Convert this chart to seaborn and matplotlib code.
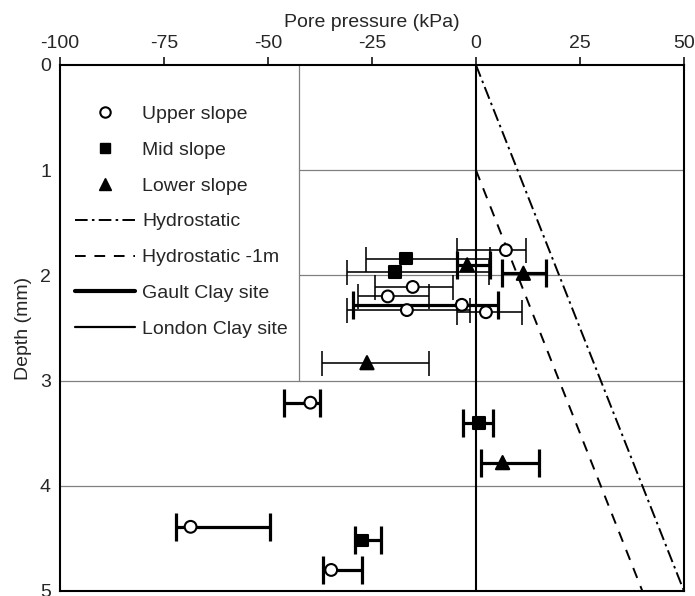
import matplotlib
matplotlib.use('Agg')
import matplotlib.pyplot as plt
from matplotlib.lines import Line2D
import numpy as np
import pandas as pd
import seaborn as sns

pressure = [7.2, -16.8, -2.1, 11.4, -19.4, -15.2, -21.2, -3.4, -16.6, 2.4,
            -26.2, -39.8, 0.8, 6.4, -68.6, -27.4, -34.8]
depth = [1.76, 1.84, 1.90, 1.98, 1.97, 2.11, 2.20, 2.28, 2.33, 2.35,
         2.83, 3.21, 3.40, 3.78, 4.39, 4.52, 4.80]
err_lo = [-4.6, -26.4, -4.6, 6.2, -31.0, -24.2, -28.4, -29.6, -31.0, -4.6,
          -37.0, -46.2, -3.0, 1.2, -72.0, -29.0, -36.8]
err_hi = [12.0, 3.4, 3.4, 16.8, 3.2, -5.4, -11.4, 5.4, -1.4, 11.0,
          -11.2, -37.6, 4.0, 15.2, -49.4, -22.8, -27.4]
slope = ['Upper slope', 'Mid slope', 'Lower slope', 'Lower slope', 'Mid slope',
         'Upper slope', 'Upper slope', 'Upper slope', 'Upper slope', 'Upper slope',
         'Lower slope', 'Upper slope', 'Mid slope', 'Lower slope', 'Upper slope',
         'Mid slope', 'Upper slope']
site = ['London', 'London', 'Gault', 'Gault', 'London', 'London', 'London', 'Gault',
        'London', 'London', 'London', 'Gault', 'Gault', 'Gault', 'Gault', 'Gault', 'Gault']

# Hydrostatische Linien
hydro_p = [0, 50]
hydro_depth = [0, 5]
hydro1_p = [0, 40]
hydro1_depth = [1, 5]

data = pd.DataFrame({'pressure': pressure, 'depth': depth, 'lo': err_lo,
                     'hi': err_hi, 'slope': slope, 'site': site})

sns.set_style('white')
plt.rcParams['font.family'] = ['Liberation Sans', 'DejaVu Sans']
plt.rcParams['font.size'] = 14
plt.rcParams['axes.unicode_minus'] = False

fig = plt.figure(figsize=(6.95, 5.96), dpi=100)
ax = fig.add_axes([0.0863, 0.0084, 0.8978, 0.8826])

# Gitterlinien und Legendenrahmen
grid_c = '#808080'
x_leg = -42.5
ax.axhline(1, xmin=(x_leg + 100) / 150, color=grid_c, lw=0.9, zorder=1)
ax.axhline(2, xmin=(x_leg + 100) / 150, color=grid_c, lw=0.9, zorder=1)
ax.axhline(3, color=grid_c, lw=0.9, zorder=1)
ax.axhline(4, color=grid_c, lw=0.9, zorder=1)
ax.axvline(x_leg, ymin=1 - 3 / 5, color=grid_c, lw=0.9, zorder=1)
ax.axvline(0, color='black', lw=1.5, zorder=1)

# Hydrostatische Linien
hydro_ls = (0, (6.5, 2.2, 1.3, 2.2))
hydro1_ls = (0, (5.5, 4.5))
ax.plot(hydro_p, hydro_depth, color='black', lw=1.4, linestyle=hydro_ls, zorder=2)
ax.plot(hydro1_p, hydro1_depth, color='black', lw=1.4, linestyle=hydro1_ls, zorder=2)

# Fehlerbalken je Standort
for s, lw, cap in [('London', 1.15, 9), ('Gault', 2.3, 10)]:
    d = data[data['site'] == s]
    xerr = np.vstack([d['pressure'] - d['lo'], d['hi'] - d['pressure']])
    ax.errorbar(d['pressure'], d['depth'], xerr=xerr, fmt='none', ecolor='black',
                elinewidth=lw, capsize=cap, capthick=lw, zorder=3)

# Punkte
sns.scatterplot(data=data, x='pressure', y='depth', hue='slope', style='slope',
                size='slope', ax=ax,
                palette={'Upper slope': 'white', 'Mid slope': 'black', 'Lower slope': 'black'},
                markers={'Upper slope': 'o', 'Mid slope': 's', 'Lower slope': '^'},
                sizes={'Upper slope': 72, 'Mid slope': 72, 'Lower slope': 90},
                edgecolor='black', linewidth=1.5, legend=False, zorder=4)

ax.set_xlim(-100, 50)
ax.set_ylim(5, 0)
ax.set_xticks([-100, -75, -50, -25, 0, 25, 50])
ax.set_yticks([0, 1, 2, 3, 4, 5])
ax.xaxis.tick_top()
ax.xaxis.set_label_position('top')
ax.set_xlabel('Pore pressure (kPa)', fontsize=14, labelpad=6)
ax.set_ylabel('Depth (mm)', fontsize=14, labelpad=6)
ax.tick_params(axis='x', direction='out', length=6, width=1.3, labelsize=14, pad=3.3)
ax.tick_params(axis='y', direction='out', length=5.5, width=1.3, labelsize=14, pad=1)
for sp in ax.spines.values():
    sp.set_color('black')
    sp.set_linewidth(1.5)

# Legende
handles = [
    Line2D([], [], ls='none', marker='o', mfc='white', mec='black', ms=7.5, mew=1.5),
    Line2D([], [], ls='none', marker='s', mfc='black', mec='black', ms=7.5),
    Line2D([], [], ls='none', marker='^', mfc='black', mec='black', ms=8.5),
    Line2D([], [], color='black', lw=1.4, ls=hydro_ls),
    Line2D([], [], color='black', lw=1.4, ls=hydro1_ls),
    Line2D([], [], color='black', lw=3.0),
    Line2D([], [], color='black', lw=1.6),
]
labels = ['Upper slope', 'Mid slope', 'Lower slope', 'Hydrostatic',
          'Hydrostatic -1m', 'Gault Clay site', 'London Clay site']
ax.legend(handles, labels, loc='upper left', bbox_to_anchor=(0.0, 0.952),
          frameon=False, fontsize=14, handlelength=3.1, handletextpad=0.35,
          labelspacing=0.94, borderpad=0.77, borderaxespad=0)

plt.savefig('out.png', dpi=100)
